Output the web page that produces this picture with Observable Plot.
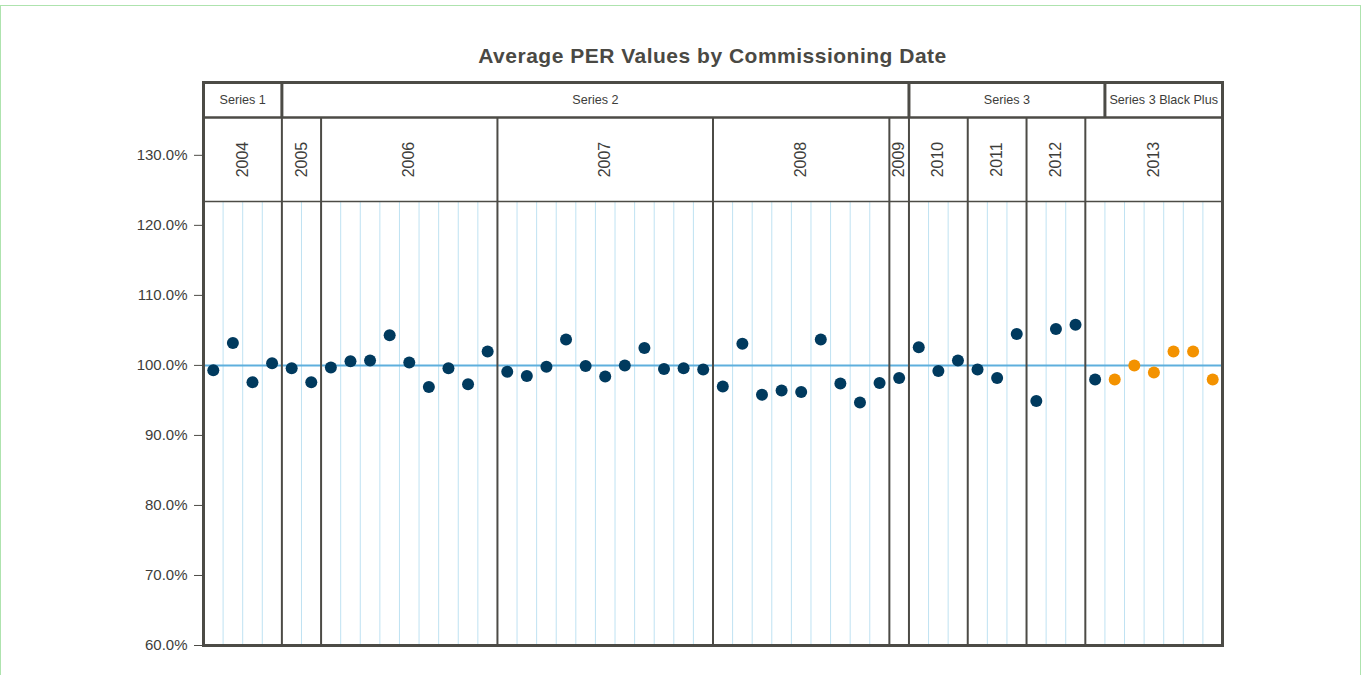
<!DOCTYPE html>
<html>
<head>
<meta charset="utf-8">
<script src="https://cdn.jsdelivr.net/npm/d3@7"></script>
<script src="https://cdn.jsdelivr.net/npm/@observablehq/plot@0.6"></script>
<style>
  html, body { margin: 0; padding: 0; background: #fff; overflow: hidden; }
  #border { position: absolute; left: 0; top: 5px; width: 1361px; height: 720px; border: 1px solid #aee3ae; box-sizing: border-box; }
  #title { position: absolute; left: 203px; width: 1019px; top: 44px; text-align: center;
           font: bold 21px "Liberation Sans", Arial, sans-serif; color: #4a4944; letter-spacing: 0.5px; }
  #chart { position: absolute; left: 0; top: 75px; }
  #chart svg { font-family: "Liberation Sans", Arial, sans-serif; }
</style>
</head>
<body>
<div id="border"></div>
<div id="title">Average PER Values by Commissioning Date</div>
<div id="chart"></div>
<script>
// ---- data ----
const years = ["2004", "2005", "2006", "2007", "2008", "2009", "2010", "2011", "2012", "2013"];
const yearCounts = [4, 2, 9, 11, 9, 1, 3, 3, 3, 7];
const seriesNames = ["Series 1", "Series 2", "Series 3", "Series 3 Black Plus"];
const seriesCounts = [4, 32, 10, 6];
const perValues = [
  99.3, 103.2, 97.6, 100.3,
  99.6, 97.6,
  99.7, 100.6, 100.7, 104.3, 100.4, 96.9, 99.6, 97.3, 102.0,
  99.1, 98.5, 99.8, 103.7, 99.9, 98.4, 100.0, 102.5, 99.5, 99.6, 99.4,
  97.0, 103.1, 95.8, 96.4, 96.2, 103.7, 97.4, 94.7, 97.5,
  98.2,
  102.6, 99.2, 100.7,
  99.4, 98.2, 104.5,
  94.9, 105.2, 105.8,
  98.0, 98.0, 100.0, 99.0, 102.0, 102.0, 98.0
];
const yTicks = [60, 70, 80, 90, 100, 110, 120, 130];
const referenceValue = 100;
const seriesColors = ["#003a5e", "#003a5e", "#003a5e", "#f39200"];

// ---- layout constants (y units) ----
const Y_MIN = 60, Y_TOP = 140.4, Y_YEAR_BOTTOM = 123.4, Y_SERIES_BOTTOM = 135.4;
const DARK = "#4c4b46";

// ---- derived tables ----
const nCols = perValues.length;
function spans(labels, counts) {
  let c = 0;
  return labels.map((label, k) => { const s = {label, x1: c, x2: c + counts[k]}; c += counts[k]; return s; });
}
const yearSpans = spans(years, yearCounts);
const seriesSpans = spans(seriesNames, seriesCounts);
const seriesOf = [];
seriesSpans.forEach((s, k) => { for (let i = s.x1; i < s.x2; i++) seriesOf[i] = k; });
const cols = perValues.map((v, i) => ({i, value: v, series: seriesOf[i]}));
const yearBounds = yearSpans.slice(1).map(s => s.x1);
const seriesBounds = seriesSpans.slice(1).map(s => s.x1);
const gridBounds = d3.range(1, nCols).filter(b => !yearBounds.includes(b));

const chart = Plot.plot({
  width: 1361,
  height: 600,
  marginLeft: 203,
  marginRight: 139,
  marginTop: 7,
  marginBottom: 30,
  x: {domain: [0, nCols], axis: null},
  y: {domain: [Y_MIN, Y_TOP], axis: null},
  marks: [
    Plot.ruleX(gridBounds, {x: d => d, y1: Y_MIN, y2: Y_YEAR_BOTTOM, stroke: "#bfe2f2", strokeWidth: 1}),
    Plot.ruleY([referenceValue], {y: d => d, x1: 0, x2: nCols, stroke: "#5eafdd", strokeWidth: 2}),
    Plot.ruleX(yearBounds, {x: d => d, y1: Y_MIN, y2: Y_SERIES_BOTTOM, stroke: DARK, strokeWidth: 2}),
    Plot.ruleX(seriesBounds, {x: d => d, y1: Y_SERIES_BOTTOM, y2: Y_TOP, stroke: DARK, strokeWidth: 3}),
    Plot.ruleY([Y_YEAR_BOTTOM], {y: d => d, x1: 0, x2: nCols, stroke: DARK, strokeWidth: 1.5}),
    Plot.ruleY([Y_SERIES_BOTTOM], {y: d => d, x1: 0, x2: nCols, stroke: DARK, strokeWidth: 2.5}),
    Plot.frame({stroke: DARK, strokeWidth: 3}),
    Plot.dot(cols, {x: d => d.i + 0.5, y: "value", r: 6, fill: d => seriesColors[d.series], stroke: "none"}),
    Plot.text(yearSpans, {x: d => (d.x1 + d.x2) / 2, y: (Y_YEAR_BOTTOM + Y_SERIES_BOTTOM) / 2, text: "label",
      rotate: -90, fontSize: 16, fill: "#3d3d3a"}),
    Plot.text(seriesSpans, {x: d => (d.x1 + d.x2) / 2, y: (Y_SERIES_BOTTOM + Y_TOP) / 2, text: "label",
      fontSize: 12.6, fill: "#3d3d3a"}),
    Plot.axisY({ticks: yTicks, tickFormat: d => d.toFixed(1) + "%", tickSize: 9, tickPadding: 7,
      fontSize: 15, label: null, color: "#3d3d3a", stroke: DARK})
  ]
});
document.getElementById("chart").appendChild(chart);
</script>
</body>
</html>
